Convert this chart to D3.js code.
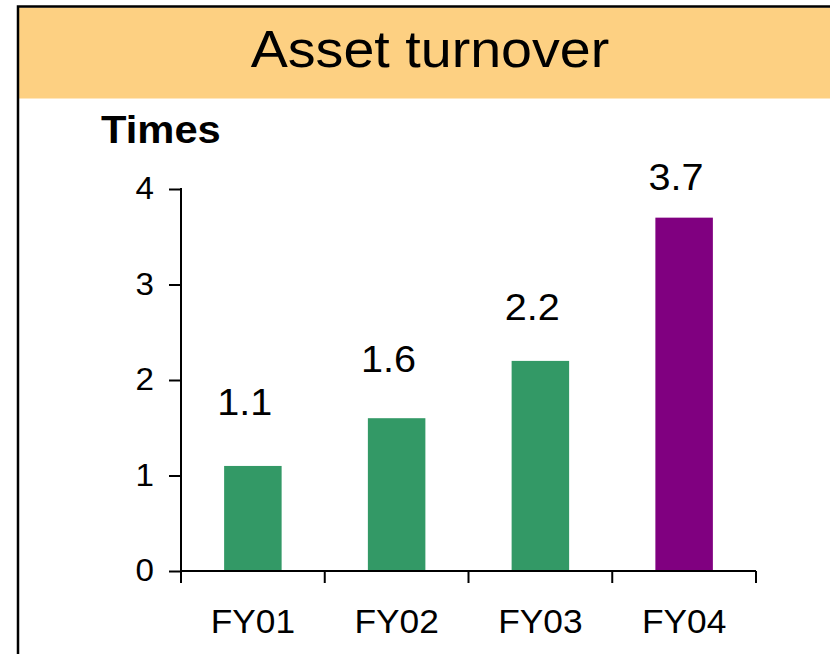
<!DOCTYPE html>
<html>
<head>
<meta charset="utf-8">
<script src="https://cdn.jsdelivr.net/npm/d3@7"></script>
<style>
  body { margin: 0; background: #fff; }
  text { font-family: "Liberation Sans", Arial, sans-serif; fill: #000; }
</style>
</head>
<body>
<div id="chart"></div>
<script>
// data
var categories = ["FY01", "FY02", "FY03", "FY04"];
var values = [1.1, 1.6, 2.2, 3.7];
var barColors = ["#339966", "#339966", "#339966", "#800080"];
var yTicks = [0, 1, 2, 3, 4];
var title = "Asset turnover";
var unitLabel = "Times";

var W = 830, H = 654;
var stretch = 1.07; // text in the picture is a bit wider than tall

var svg = d3.select("#chart").append("svg")
    .attr("width", W)
    .attr("height", H);

// frame + header band
svg.append("rect")
  .attr("x", 19).attr("y", 7.5)
  .attr("width", W).attr("height", 91)
  .style("fill", "#FDD082");

svg.append("rect")
  .attr("x", 18).attr("y", 6.5)
  .attr("width", W + 50).attr("height", H + 50)
  .style("fill", "none")
  .style("stroke", "#000")
  .style("stroke-width", 2.5);

function addText(x, y, str, size, anchor, weight) {
  return svg.append("text")
    .attr("transform", "translate(" + x + "," + y + ") scale(" + stretch + ",1)")
    .attr("text-anchor", anchor)
    .style("font-size", size + "px")
    .style("font-weight", weight || "normal")
    .text(str);
}

addText(430, 67, title, 52, "middle");
addText(101, 143, unitLabel, 39, "start", "bold");

// scales
var x = d3.scaleBand().domain(categories).range([181, 756]).padding(0);
var xBar = d3.scaleBand().domain(categories).range([181, 756])
    .paddingInner(0.6).paddingOuter(0.3);
var y = d3.scaleLinear().domain([0, 4]).range([571, 189]);
// the value labels sit on their own slightly flatter scale in the original
var yLabel = d3.scaleLinear().domain([0, 4]).range([510.5, 164.5]);

// bars
svg.selectAll("rect.bar")
  .data(values)
  .enter().append("rect")
    .attr("class", "bar")
    .attr("x", function(d, i) { return xBar(categories[i]); })
    .attr("y", function(d) { return y(d); })
    .attr("width", xBar.bandwidth())
    .attr("height", function(d) { return y(0) - y(d); })
    .style("fill", function(d, i) { return barColors[i]; });

// y axis
var yAxis = d3.axisLeft(y)
    .tickValues(yTicks)
    .tickSize(12)
    .tickPadding(15)
    .tickFormat(d3.format("d"));

var gy = svg.append("g")
  .attr("transform", "translate(181,0)")
  .call(yAxis);
gy.select(".domain").remove();
gy.selectAll(".tick line").style("stroke", "#000").style("stroke-width", 2);
gy.selectAll(".tick text")
  .style("font-size", "31px")
  .style("font-family", "'Liberation Sans', Arial, sans-serif")
  .attr("transform", function() {
    var tx = +d3.select(this).attr("x");
    return "translate(" + tx + ",0) scale(" + stretch + ",1)";
  })
  .attr("x", 0);

svg.append("line")
  .attr("x1", 181).attr("x2", 181)
  .attr("y1", y(4) - 1).attr("y2", y(0) + 12)
  .style("stroke", "#000").style("stroke-width", 2);

// x axis line + ticks at category boundaries
svg.append("line")
  .attr("x1", x.range()[0]).attr("x2", x.range()[1])
  .attr("y1", y(0)).attr("y2", y(0))
  .style("stroke", "#000").style("stroke-width", 2);

var bounds = categories.map(function(c) { return x(c); }).concat([x.range()[1]]);
svg.selectAll("line.xtick")
  .data(bounds.slice(1))
  .enter().append("line")
    .attr("class", "xtick")
    .attr("x1", function(d) { return d; })
    .attr("x2", function(d) { return d; })
    .attr("y1", y(0))
    .attr("y2", y(0) + 12)
    .style("stroke", "#000").style("stroke-width", 2);

// category labels
categories.forEach(function(c) {
  addText(x(c) + x.bandwidth() / 2, 633, c, 33, "middle");
});

// value labels
values.forEach(function(v, i) {
  addText(xBar(categories[i]) + xBar.bandwidth() / 2 - 8, yLabel(v), v.toFixed(1), 37, "middle");
});
</script>
</body>
</html>
